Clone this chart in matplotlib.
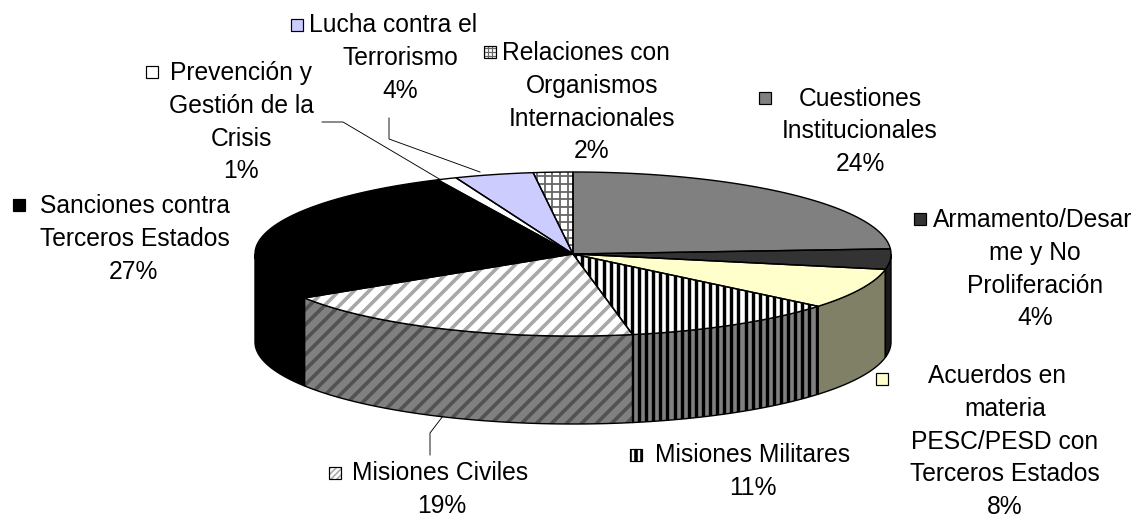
import numpy as np
import matplotlib
matplotlib.use("Agg")
import matplotlib.pyplot as plt
from matplotlib.patches import Polygon, Rectangle
from matplotlib.collections import LineCollection

plt.rcParams['font.family'] = ['Liberation Sans', 'DejaVu Sans']

# ---- data (clockwise from 12 o'clock) ----
categories = ["Cuestiones Institucionales", "Armamento/Desarme y No Proliferación",
              "Acuerdos en materia PESC/PESD con Terceros Estados", "Misiones Militares",
              "Misiones Civiles", "Sanciones contra Terceros Estados",
              "Prevención y Gestión de la Crisis", "Lucha contra el Terrorismo",
              "Relaciones con Organismos Internacionales"]
values = [24, 4, 8, 11, 19, 27, 1, 4, 2]
top_colors = ["#808080", "#333333", "#FFFFCC", "#FFFFFF", "#FFFFFF", "#000000", "#FFFFFF", "#CCCCFF", "#FFFFFF"]
wall_colors = ["#808080", "#1a1a1a", "#808066", "#808080", "#808080", "#000000", "#808080", "#666680", "#808080"]

W, H = 1139, 517
CX, CY, RX, RY, DEPTH = 573, 254, 318, 82, 88
FS = 24.6

fig = plt.figure(figsize=(W / 72, H / 72), dpi=72, facecolor="white")
ax = fig.add_axes([0, 0, 1, 1])
ax.set_xlim(0, W)
ax.set_ylim(H, 0)
ax.axis("off")


def pt(theta, dy=0.0):
    return np.column_stack([CX + RX * np.sin(theta), CY - RY * np.cos(theta) + dy])


def stripes(patch, kind, spacing, lw, color, z):
    x0, y0, x1, y1 = 0, 0, W, H
    segs = []
    if kind == "v" or kind == "grid":
        segs += [[(x, y0), (x, y1)] for x in np.arange(0, W, spacing)]
    if kind == "grid":
        segs += [[(x0, y), (x1, y)] for y in np.arange(0, H, spacing)]
    if kind == "d":
        segs += [[(c, 0), (c - H, H)] for c in np.arange(0, W + H, spacing)]
    lc = LineCollection(segs, colors=color, linewidths=lw, zorder=z)
    ax.add_collection(lc)
    lc.set_clip_path(patch)


STYLE_TOP = {3: ("v", 7.1, 3.4, "#000000"), 4: ("d", 15, 3.6, "#a8a8a8"), 8: ("grid", 7.67, 1.8, "#666666")}
STYLE_WALL = {3: ("v", 7.1, 3.4, "#000000"), 4: ("d", 15, 3.6, "#525252")}

fr = np.cumsum([0] + values) / sum(values) * 2 * np.pi

# walls (visible lower half only)
for i in range(len(values)):
    a, b = max(fr[i], np.pi / 2), min(fr[i + 1], 3 * np.pi / 2)
    if b <= a:
        continue
    t = np.linspace(a, b, 80)
    poly = np.vstack([pt(t), pt(t[::-1], DEPTH)])
    p = Polygon(poly, closed=True, fc=wall_colors[i], ec="none", zorder=2)
    ax.add_patch(p)
    if i in STYLE_WALL:
        k, s, l, c = STYLE_WALL[i]
        stripes(p, k, s, l, c, 2.5)
    ax.add_patch(Polygon(poly, closed=True, fc="none", ec="black", lw=1.4, zorder=3))

# top faces
for i in range(len(values)):
    t = np.linspace(fr[i], fr[i + 1], 120)
    poly = np.vstack([[CX, CY], pt(t)])
    p = Polygon(poly, closed=True, fc=top_colors[i], ec="none", zorder=4)
    ax.add_patch(p)
    if i in STYLE_TOP:
        k, s, l, c = STYLE_TOP[i]
        stripes(p, k, s, l, c, 4.5)
    ax.add_patch(Polygon(poly, closed=True, fc="none", ec="black", lw=1.4, zorder=5))

# leader lines
for xs, ys in [([322, 343, 441], [122, 122, 180]),
               ([389, 389, 480], [118, 139, 172]),
               ([430, 430, 443], [455, 433, 416])]:
    ax.plot(xs, ys, color="black", lw=0.9, zorder=6)

# labels: lines, text centre x, first-line y, marker centre
labels = [
    (0, ["Cuestiones", "Institucionales", "24%"], [860, 860, 860], 98.5, (765, 98)),
    (1, ["Armamento/Desar", "me y No", "Proliferación", "4%"], [1033, 1035, 1035, 1035], 220, (920, 219)),
    (2, ["Acuerdos en", "materia", "PESC/PESD con", "Terceros Estados", "8%"], [997, 1005, 1005, 1005, 1005], 376, (882, 379)),
    (3, ["Misiones Militares", "11%"], [753, 753], 455, (636, 455)),
    (4, ["Misiones Civiles", "19%"], [440, 442], 473, (335, 473)),
    (5, ["Sanciones contra", "Terceros Estados", "27%"], [135, 135, 133], 206, (19, 205)),
    (6, ["Prevención y", "Gestión de la", "Crisis", "1%"], [241, 241, 241, 241], 73, (152, 72)),
    (7, ["Lucha contra el", "Terrorismo", "4%"], [393, 400, 400], 25, (297, 25)),
    (8, ["Relaciones con", "Organismos", "Internacionales", "2%"], [586, 592, 592, 592], 53, (490, 52)),
]
for idx, lines, xs, y0, mk in labels:
    for n, (s, x) in enumerate(zip(lines, xs)):
        ax.text(x, y0 + n * 32.8, s, ha="center", va="center", fontsize=FS, color="black", zorder=8)
    r = Rectangle((mk[0] - 6, mk[1] - 6), 12, 12, fc=top_colors[idx], ec="none", zorder=7)
    ax.add_patch(r)
    if idx in STYLE_TOP:
        k, s, l, c = STYLE_TOP[idx]
        if k == "grid":
            stripes(r, "grid", 4, 1.2, c, 7.2)
        elif k == "v":
            stripes(r, "v", 6, 3.6, c, 7.2)
        else:
            stripes(r, "d", 6, 1.6, c, 7.2)
    ax.add_patch(Rectangle((mk[0] - 6, mk[1] - 6), 12, 12, fc="none", ec="black", lw=1.2, zorder=7.5))

fig.savefig("out.png", dpi=72, facecolor="white")
